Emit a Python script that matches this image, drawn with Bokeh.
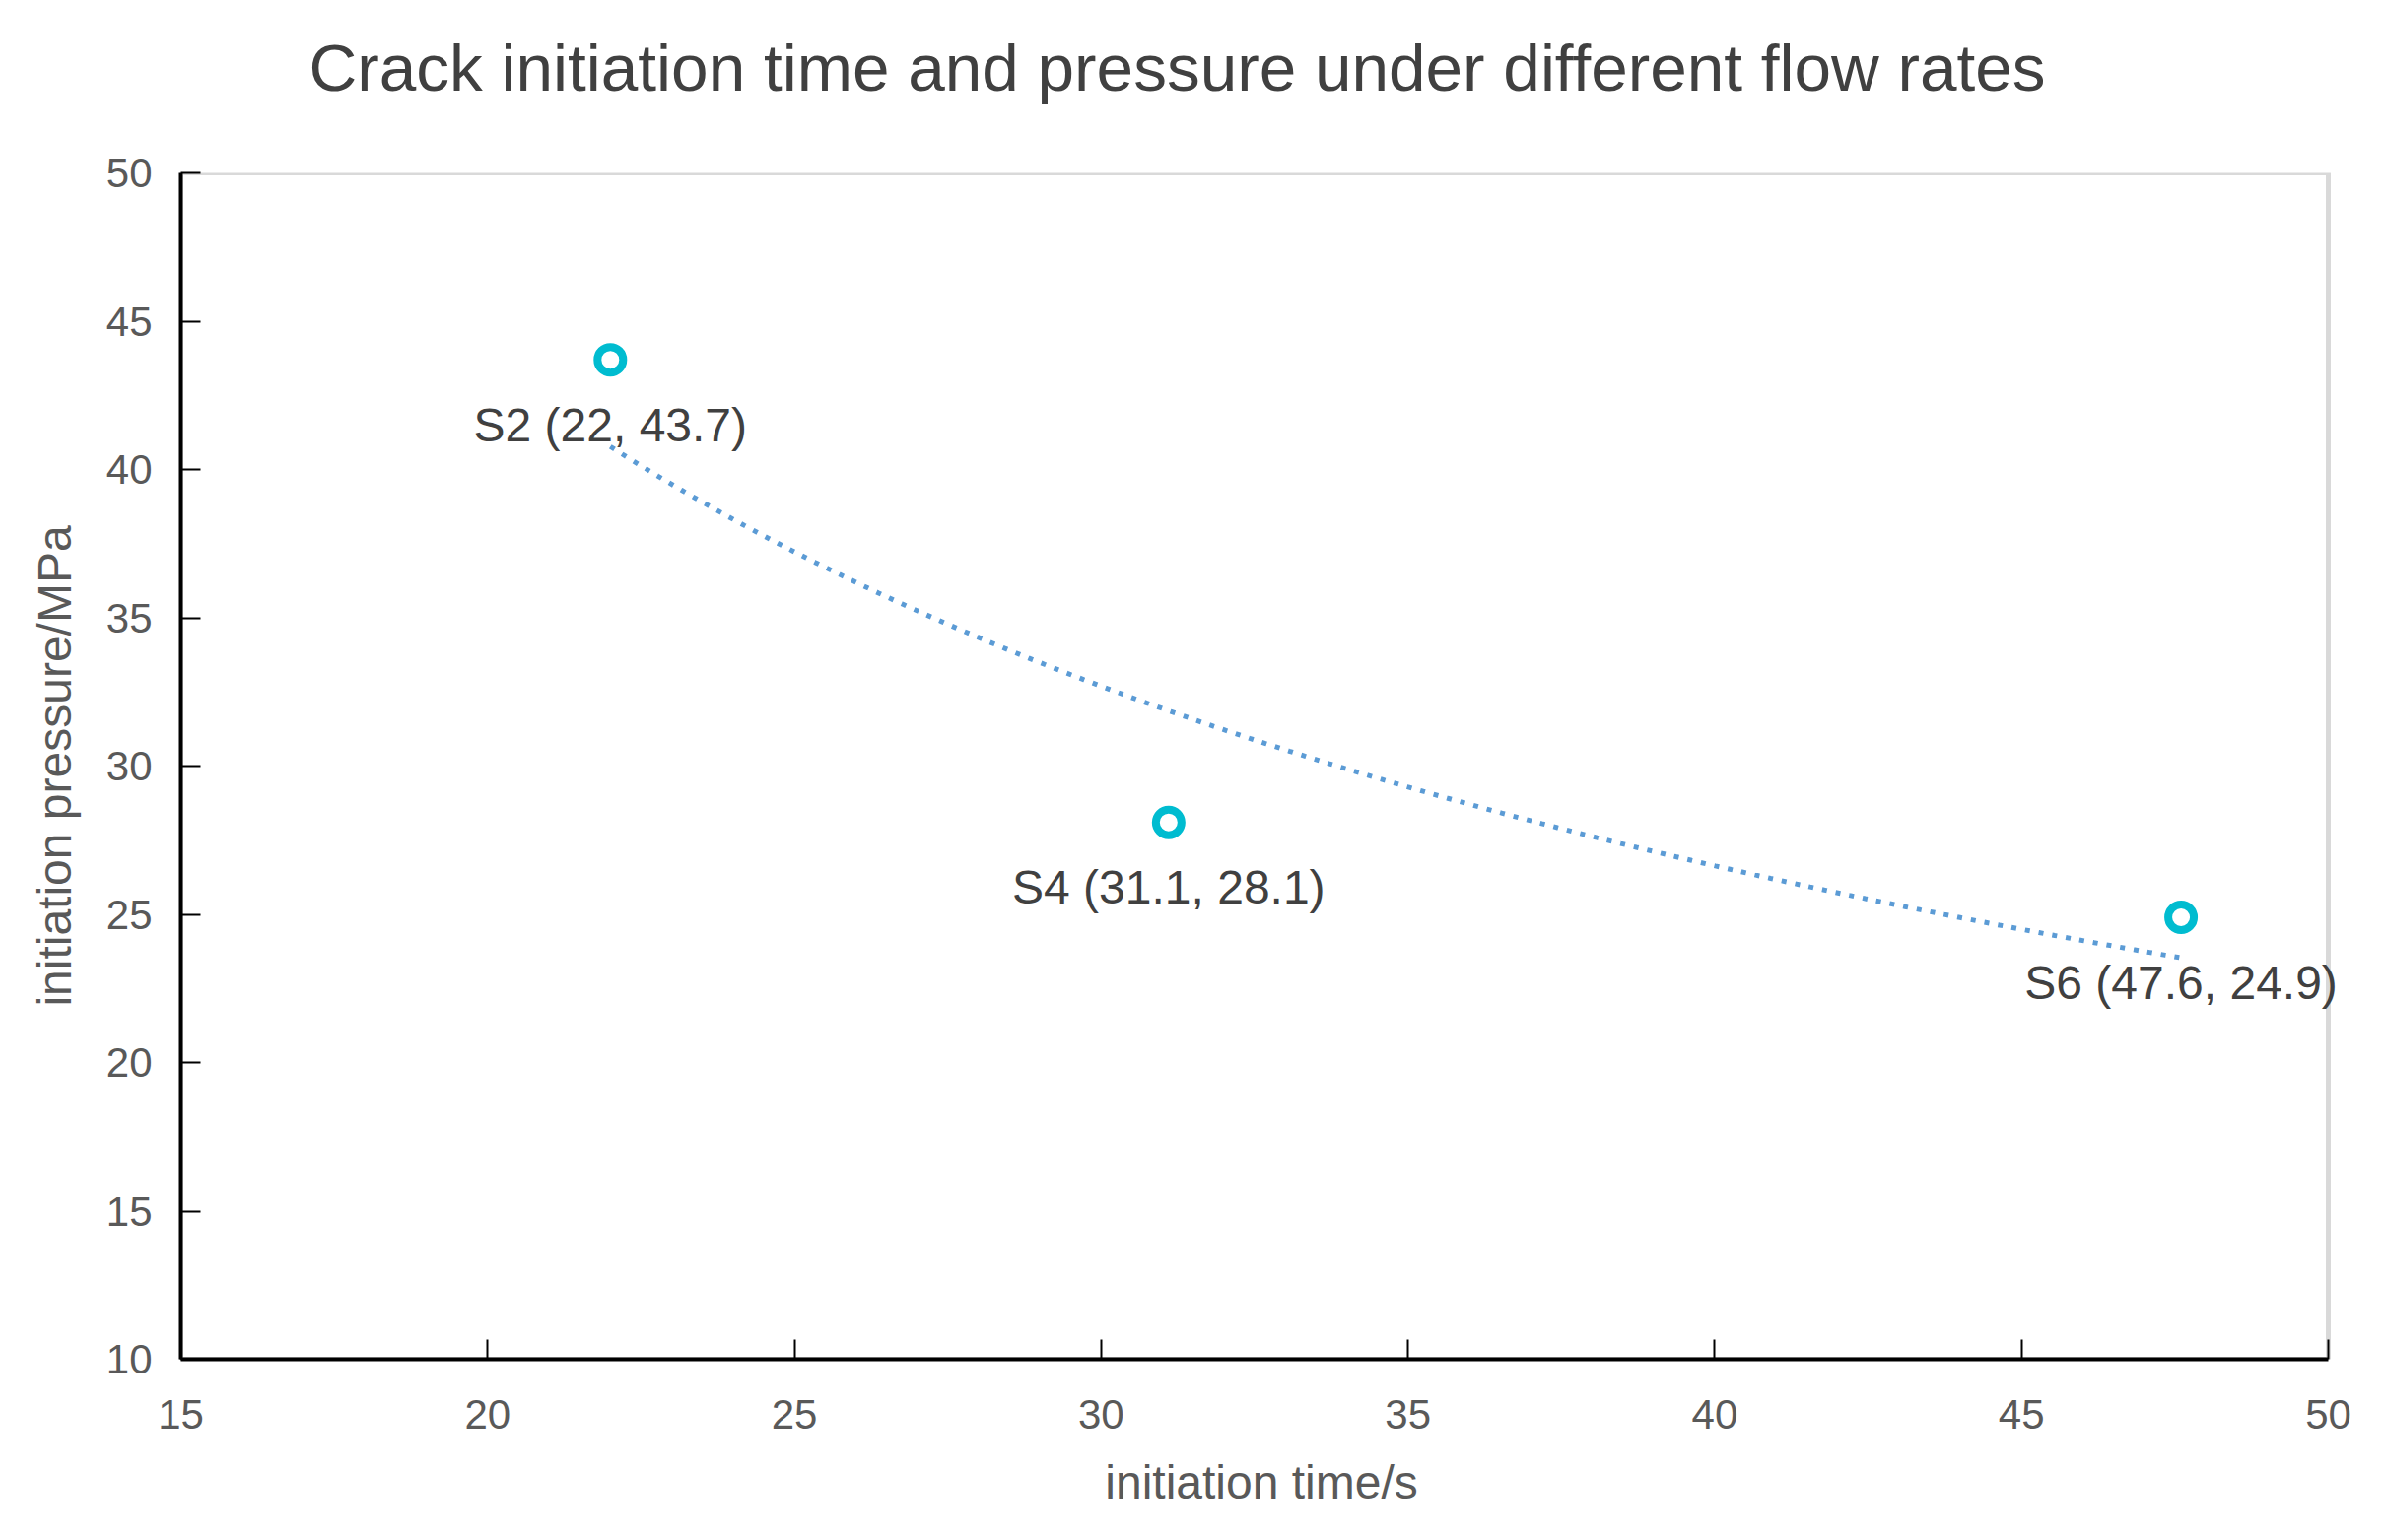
import numpy as np
from bokeh.plotting import figure
from bokeh.models import ColumnDataSource, Label, FixedTicker, Range1d, BoxAnnotation, Title
from bokeh.embed import file_html
from bokeh.resources import INLINE

# ---- data ----
sample_names = ["S2", "S4", "S6"]
initiation_time = [22.0, 31.1, 47.6]
initiation_pressure = [43.7, 28.1, 24.9]
x_ticks = [15, 20, 25, 30, 35, 40, 45, 50]
y_ticks = [10, 15, 20, 25, 30, 35, 40, 45, 50]
x_lim = (15, 50)
y_lim = (10, 50)

FONT = "Liberation Sans"

# power trendline (as in spreadsheet "power" trendline), fitted from the data
lx = np.log(np.array(initiation_time))
ly = np.log(np.array(initiation_pressure))
b, a = np.polyfit(lx, ly, 1)
trend_x = np.linspace(min(initiation_time), max(initiation_time), 200)
trend_y = np.exp(a) * trend_x ** b

src = ColumnDataSource(dict(x=initiation_time, y=initiation_pressure))

# layout (pixels)
W, H = 2402, 1547
LEFT, TOP, BOTTOM = 183, 175, 168
AXIS_W = 2179          # width of the 15..50 axis span
EXTRA = 14             # extra frame room on the right so the last label is not clipped
FW = AXIS_W + EXTRA
RIGHT = W - LEFT - FW
x_end = x_lim[1] + (x_lim[1] - x_lim[0]) * EXTRA / AXIS_W

p = figure(width=W, height=H, output_backend="svg", toolbar_location=None, title=None,
           x_range=Range1d(x_lim[0], x_end), y_range=Range1d(*y_lim),
           min_border_left=LEFT, min_border_right=RIGHT, min_border_top=TOP,
           min_border_bottom=BOTTOM)

# spacer between the frame and the title (nearest to the frame)
p.add_layout(Title(text=" ", text_font_size="1px", standoff=65), "above")
p.add_layout(Title(text="Crack initiation time and pressure under different flow rates",
                   text_font=FONT, text_font_size="67.5px", text_font_style="normal",
                   text_color="#404040", align="left", vertical_align="top",
                   offset=130, standoff=0), "above")

p.xgrid.visible = False
p.ygrid.visible = False
p.outline_line_color = None
p.background_fill_color = "white"
p.border_fill_color = "white"

# light plot-area border (top / right)
p.add_layout(BoxAnnotation(left=x_lim[0], right=x_lim[1], bottom=y_lim[0], top=y_lim[1],
                           fill_alpha=0, line_color="#D9D9D9", line_alpha=1,
                           line_width=5, level="underlay"))

for ax, ticks in ((p.xaxis[0], x_ticks), (p.yaxis[0], y_ticks)):
    ax.ticker = FixedTicker(ticks=ticks)
    ax.axis_line_color = "black"
    ax.axis_line_width = 4
    ax.major_tick_line_color = "black"
    ax.major_tick_line_width = 2
    ax.major_tick_in = 20
    ax.major_tick_out = 0
    ax.minor_tick_line_color = None
    ax.major_label_text_font = FONT
    ax.major_label_text_font_size = "42px"
    ax.major_label_text_color = "#595959"
    ax.axis_label_text_font = FONT
    ax.axis_label_text_font_size = "48px"
    ax.axis_label_text_font_style = "normal"
    ax.axis_label_text_color = "#595959"

p.xaxis.bounds = x_lim
p.xaxis.axis_label = "initiation time/s"
p.yaxis.axis_label = "initiation pressure/MPa"
p.xaxis.major_label_standoff = 41
p.yaxis.major_label_standoff = 29
p.xaxis.axis_label_standoff = 25
p.yaxis.axis_label_standoff = 23

p.line(trend_x, trend_y, line_color="#5B9BD5", line_width=5, line_dash="5 9")
p.scatter("x", "y", source=src, marker="circle", size=26, fill_color="white",
          line_color="#00BCD0", line_width=8)

for n, x, y in zip(sample_names, initiation_time, initiation_pressure):
    p.add_layout(Label(x=x, y=y, text=f"{n} ({x:g}, {y:g})", text_align="center",
                       text_baseline="middle", y_offset=-66, text_font=FONT,
                       text_font_size="48px", text_color="#404040"))

open("out.html", "w").write(file_html(p, INLINE))
